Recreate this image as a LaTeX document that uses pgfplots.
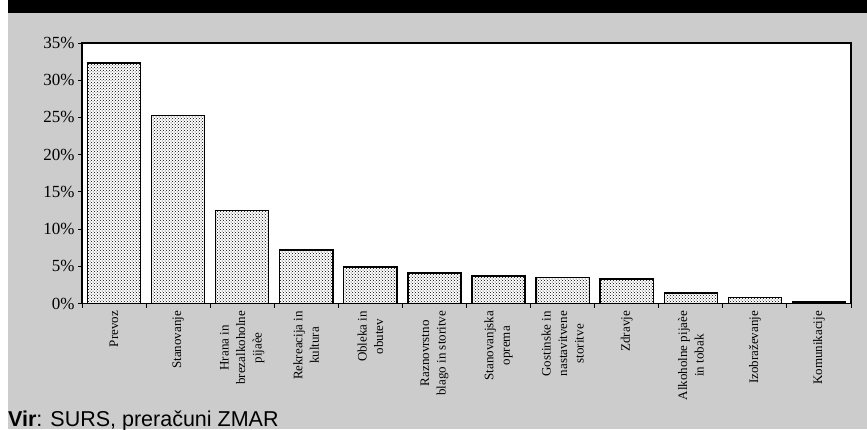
\documentclass[border=0pt]{standalone}
\usepackage{fontspec}
\setmainfont{Liberation Serif}
\newfontfamily\sourcefont{Liberation Sans}
\usepackage{pgfplots}
\pgfplotsset{compat=1.18}
\usetikzlibrary{patterns}

\definecolor{panel}{RGB}{204,204,204}

\begin{document}
\begin{tikzpicture}[x=1pt,y=1pt]
\useasboundingbox (0,0) rectangle (867,429);
% page, panel and heading band
\fill[white] (0,0) rectangle (867,429);
\fill[panel] (8,0) rectangle (867,416);
\fill[black] (8,416) rectangle (867,429);

\begin{axis}[
  at={(82pt,125.5pt)}, anchor=south west,
  scale only axis, width=769pt, height=260.5pt,
  axis background/.style={fill=white},
  axis line style={line width=1.1pt},
  ybar, bar width=0.83,
  ymin=0, ymax=35, ytick={0,5,...,35},
  /pgf/number format/assume math mode=true,
  yticklabel={\pgfmathprintnumber{\tick}\%},
  yticklabel style={font=\fontsize{17}{20}\selectfont},
  xmin=-0.5, xmax=11.5,
  xtick={0,...,11},
  major x tick style={draw=none},
  minor xtick={-0.5,0.5,...,11.5},
  minor tick length=4pt, major tick length=4pt,
  every tick/.style={black, line width=1pt},
  tick align=outside, tick pos=left,
  xticklabels={
    Prevoz,
    Stanovanje,
    {Hrana in\\brezalkoholne\\pijaèe},
    {Rekreacija in\\kultura},
    {Obleka in\\obutev},
    {Raznovrstno\\blago in storitve},
    {Stanovanjska\\oprema},
    {Gostinske in\\nastavitvene\\storitve},
    Zdravje,
    {Alkoholne pijaèe\\in tobak},
    Izobraževanje,
    Komunikacije},
  xticklabel style={rotate=90, anchor=east, align=center,
    font=\fontsize{13}{16.5}\selectfont},
]
\addplot[draw=black, line width=1.3pt, fill=white,
  postaction={pattern=crosshatch dots, pattern color=black}]
  coordinates {
    (0,32.3) (1,25.3) (2,12.5) (3,7.2) (4,4.9) (5,4.1)
    (6,3.7) (7,3.5) (8,3.3) (9,1.4) (10,0.8) (11,0.2)
  };
\end{axis}

% source line
\node[anchor=base west, inner sep=0pt] at (8,3)
  {\sourcefont\fontsize{21.5}{24}\selectfont\textbf{Vir}: SURS, preračuni ZMAR};
\end{tikzpicture}
\end{document}
